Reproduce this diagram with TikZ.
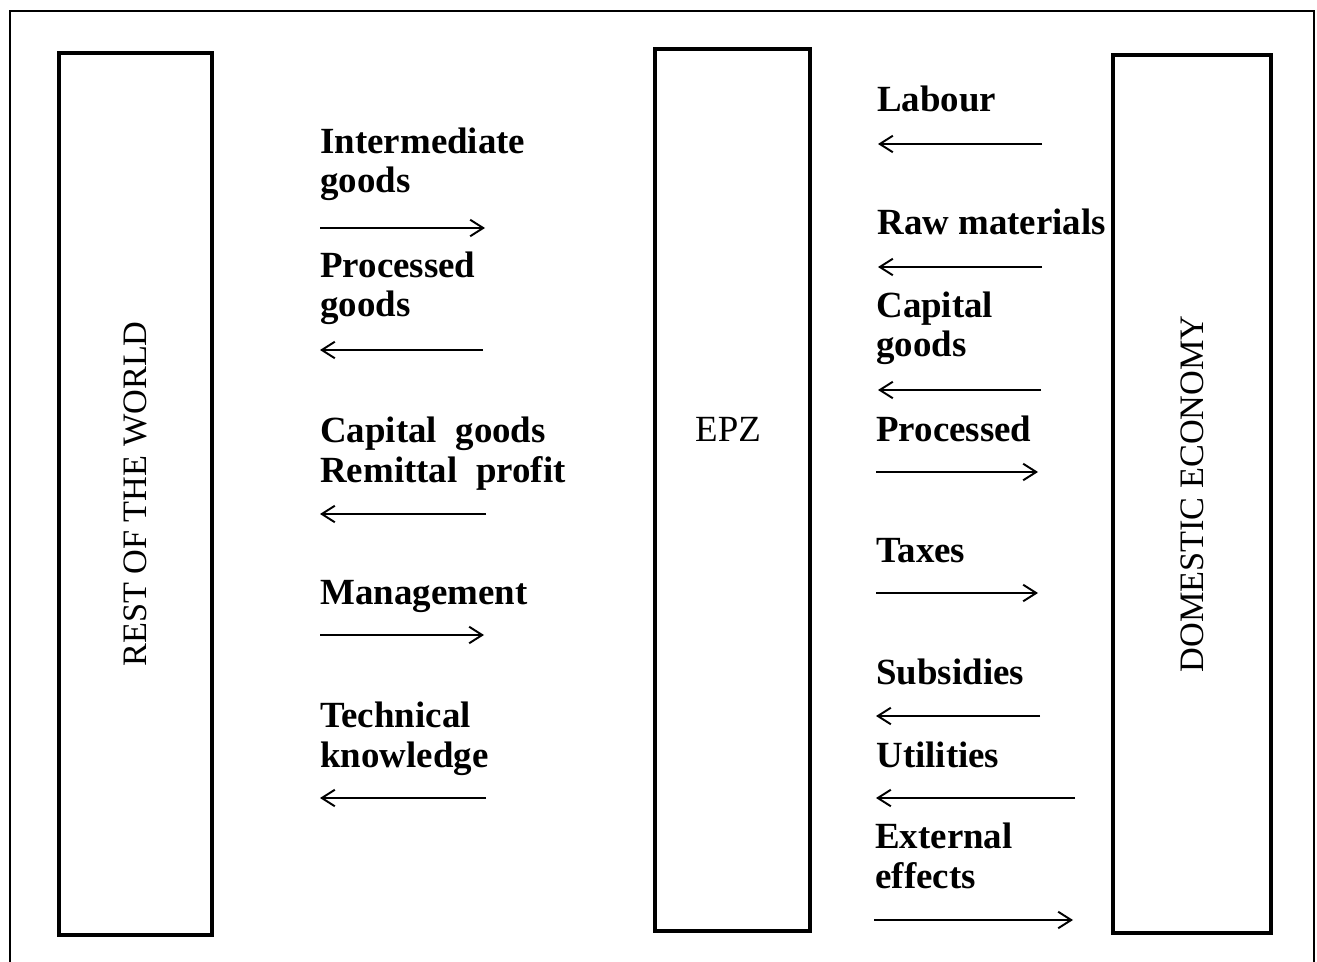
\documentclass[tikz,border=0pt]{standalone}
\usepackage{fontspec}
\setmainfont{Liberation Serif}
\usetikzlibrary{arrows.meta}

\tikzset{
  flowtext/.style={anchor=base west, align=left, inner sep=0pt,
    font=\fontsize{21}{22.7}\selectfont\bfseries},
  sector/.style={draw, line width=2.3pt, inner sep=0pt,
    font=\fontsize{19.5}{22}\selectfont},
  flow/.style={line width=1.1pt, ->},
}

\begin{document}
\begin{tikzpicture}[x=0.02cm, y=-0.02cm, >={Straight Barb[length=2.6mm,width=3.3mm]}]
  \useasboundingbox (0,0) rectangle (1317,962);
  % frame
  \draw[line width=1.2pt] (10,962) -- (10,11) -- (1314,11) -- (1314,962);

  % sectors
  \node (world) at (135.5,494) [sector, rotate=90, minimum width=17.64cm, minimum height=3.06cm] {REST OF THE WORLD};
  \node (epz) at (732.5,490) [sector, minimum width=3.1cm, minimum height=17.64cm] {};
  \node (epzname) at (728,429) [font=\fontsize{21}{24}\selectfont] {EPZ};
  \node (domestic) at (1192,494) [sector, rotate=90, minimum width=17.56cm, minimum height=3.16cm] {DOMESTIC ECONOMY};

  % rest of the world <-> EPZ (placed at the baseline of the last line)
  \node (intgoods) at (320,193) [flowtext] {Intermediate\\goods};
  \node (procgoods) at (320,317) [flowtext] {Processed\\goods};
  \node (remit) at (320,482) [flowtext] {Capital\enspace goods\\Remittal\enspace profit};
  \node (manage) at (320,604) [flowtext] {Management};
  \node (knowhow) at (320,767) [flowtext] {Technical\\knowledge};

  % EPZ <-> domestic economy
  \node (labour) at (877,112) [flowtext] {Labour};
  \node (rawmat) at (877,235) [flowtext] {Raw materials};
  \node (capgoods) at (876,357) [flowtext] {Capital\\goods};
  \node (procdom) at (876,441) [flowtext] {Processed};
  \node (taxes) at (876,562) [flowtext] {Taxes};
  \node (subsid) at (876,684) [flowtext] {Subsidies};
  \node (utils) at (876,767) [flowtext] {Utilities};
  \node (extern) at (875,888) [flowtext] {External\\effects};

  % flows, from -> to
  \foreach \n/\y/\a/\b in {intgoods/228/320/485, procgoods/350/483/320,
      remit/514/486/320, manage/635/320/484, knowhow/798/486/320,
      labour/144/1042/878, rawmat/267/1042/878, capgoods/390/1041/878,
      procdom/472/876/1038, taxes/593/876/1038, subsid/716/1040/876,
      utils/798/1075/876, extern/920/874/1073}{
    \coordinate (\n-from) at (\a,\y);
    \coordinate (\n-to) at (\b,\y);
    \draw[flow] (\n-from) -- (\n-to);
  }
\end{tikzpicture}
\end{document}
